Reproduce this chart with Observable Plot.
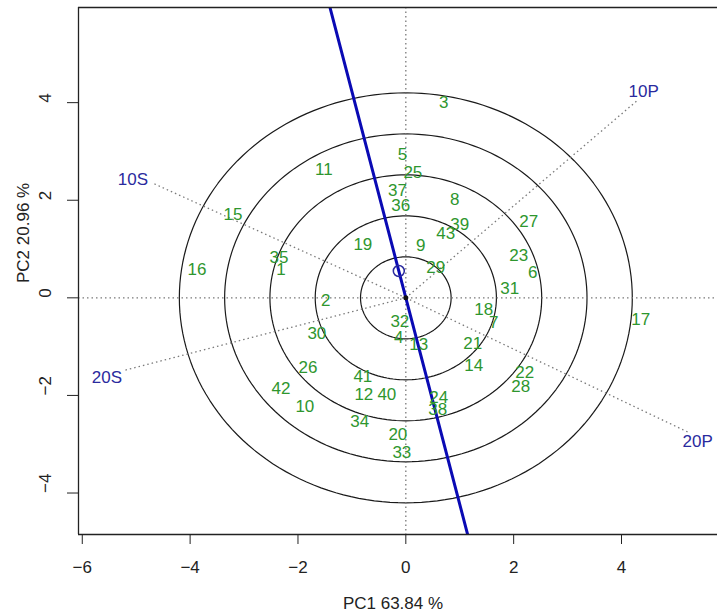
<!DOCTYPE html>
<html>
<head>
<meta charset="utf-8">
<script src="https://cdn.jsdelivr.net/npm/d3@7"></script>
<script src="https://cdn.jsdelivr.net/npm/@observablehq/plot@0.6"></script>
<style>
  html, body { margin: 0; padding: 0; background: #fff; }
  #chart svg { display: block; }
</style>
</head>
<body>
<div id="chart"></div>
<script>
// ---- Data ----
const genotypes = ["1","2","3","4","5","6","7","8","9","10","11","12","13","14","15","16","17","18","19","20","21","22","23","24","25","26","27","28","29","30","31","32","33","34","35","36","37","38","39","40","41","42","43"];
const genoX = [-2.317,-1.483,0.704,-0.130,-0.061,2.354,1.631,0.908,0.278,-1.872,-1.520,-0.778,0.241,1.260,-3.207,-3.874,4.356,1.446,-0.797,-0.148,1.242,2.206,2.095,0.612,0.130,-1.816,2.280,2.132,0.556,-1.650,1.928,-0.111,-0.074,-0.853,-2.354,-0.093,-0.154,0.593,1.001,-0.352,-0.797,-2.317,0.741];
const genoY = [0.585,-0.051,4.010,-0.810,2.944,0.523,-0.503,2.021,1.077,-2.226,2.636,-1.979,-0.954,-1.385,1.713,0.585,-0.441,-0.236,1.097,-2.800,-0.933,-1.528,0.872,-2.041,2.574,-1.426,1.569,-1.815,0.626,-0.728,0.195,-0.496,-3.169,-2.533,0.831,1.883,2.191,-2.287,1.508,-1.979,-1.610,-1.856,1.323];

const envNames = ["10S","20S","10P","20P"];
const envX = [-4.690,-5.227,4.300,5.246];
const envY = [2.349,-1.487,4.051,-2.759];
const envLabelX = [-5.060,-5.542,4.411,5.412];
const envLabelY = [2.431,-1.631,4.236,-2.944];

const avgEnvX = -0.13;
const avgEnvY = 0.55;

const ringRadii = [0.84, 1.68, 2.52, 3.36, 4.2];

const xTicks = [-6,-4,-2,0,2,4];
const yTicks = [-4,-2,0,2,4];
const xLabel = "PC1 63.84 %";
const yLabel = "PC2 20.96 %";
const xDomain = [-6.07, 5.78];
const yDomain = [-4.85, 5.95];

// ---- Derived tables ----
const genoData = genotypes.map((g, i) => ({g, x: genoX[i], y: genoY[i]}));
const envData = envNames.map((e, i) => ({e, x: envX[i], y: envY[i], lx: envLabelX[i], ly: envLabelY[i]}));
const ringData = ringRadii.flatMap((r, i) =>
  d3.range(0, 361, 2).map(a => ({ring: i, x: r * Math.cos(a * Math.PI / 180), y: r * Math.sin(a * Math.PI / 180)})));
const aeaLine = [{x: -12 * avgEnvX, y: -12 * avgEnvY}, {x: 12 * avgEnvX, y: 12 * avgEnvY}];

const FONT = "'Liberation Sans', Arial, Helvetica, sans-serif";
const FS = 17;
const fmt = d => (d < 0 ? "\u2212" + Math.abs(d) : String(d));
const green = "#2e962e";
const blue = "#0a0ab4";
const envBlue = "#2a2a9e";
const dotted = "#7a7a7a";

const chart = Plot.plot({
  width: 717,
  height: 615,
  marginLeft: 78,
  marginRight: 0,
  marginTop: 7,
  marginBottom: 81,
  style: {fontFamily: FONT, fontSize: FS + "px", color: "#222", background: "#fff"},
  x: {domain: xDomain},
  y: {domain: yDomain},
  marks: [
    // concentric rings
    Plot.line(ringData, {x: "x", y: "y", z: "ring", stroke: "#1a1a1a", strokeWidth: 1.2, clip: true}),
    // dotted reference axes
    Plot.ruleY([0], {stroke: dotted, strokeWidth: 1.3, strokeDasharray: "1.5,3"}),
    Plot.ruleX([0], {stroke: dotted, strokeWidth: 1.3, strokeDasharray: "1.5,3"}),
    // environment vectors
    Plot.link(envData, {x1: () => 0, y1: () => 0, x2: "x", y2: "y", stroke: dotted, strokeWidth: 1.3, strokeDasharray: "1.5,3"}),
    Plot.text(envData, {x: "lx", y: "ly", text: "e", fill: envBlue, fontSize: FS, fontFamily: FONT}),
    // average environment axis
    Plot.line(aeaLine, {x: "x", y: "y", stroke: blue, strokeWidth: 3, clip: true}),
    Plot.dot([{x: avgEnvX, y: avgEnvY}], {x: "x", y: "y", r: 5.5, stroke: envBlue, strokeWidth: 1.5, fill: "none"}),
    Plot.dot([{x: 0, y: 0}], {x: "x", y: "y", r: 2.5, fill: "#111"}),
    // genotype labels
    Plot.text(genoData, {x: "x", y: "y", text: "g", fill: green, fontSize: FS, fontFamily: FONT}),
    // frame (top, bottom, left)
    Plot.ruleY([yDomain[1], yDomain[0]], {stroke: "#222", strokeWidth: 1.3}),
    Plot.ruleX([xDomain[0]], {stroke: "#222", strokeWidth: 1.3}),
    // axes
    Plot.axisX(xTicks, {tickSize: 10, tickPadding: 16, fontSize: FS, fontFamily: FONT, label: null, tickFormat: fmt, stroke: "#222", fill: "#222"}),
    Plot.axisY(yTicks, {tickSize: 11, tickFormat: () => "", label: null, stroke: "#222"}),
    Plot.text(yTicks, {y: d => d, text: fmt, frameAnchor: "left", dx: -33, rotate: -90, fontSize: FS, fontFamily: FONT, fill: "#222"}),
    Plot.text([xLabel], {text: d => d, frameAnchor: "bottom", dx: -5, dy: 74, fontSize: FS, fontFamily: FONT, fill: "#222"}),
    Plot.text([yLabel], {text: d => d, frameAnchor: "left", dx: -55, dy: 12, rotate: -90, fontSize: FS, fontFamily: FONT, fill: "#222"})
  ]
});
document.getElementById("chart").appendChild(chart);
</script>
</body>
</html>
